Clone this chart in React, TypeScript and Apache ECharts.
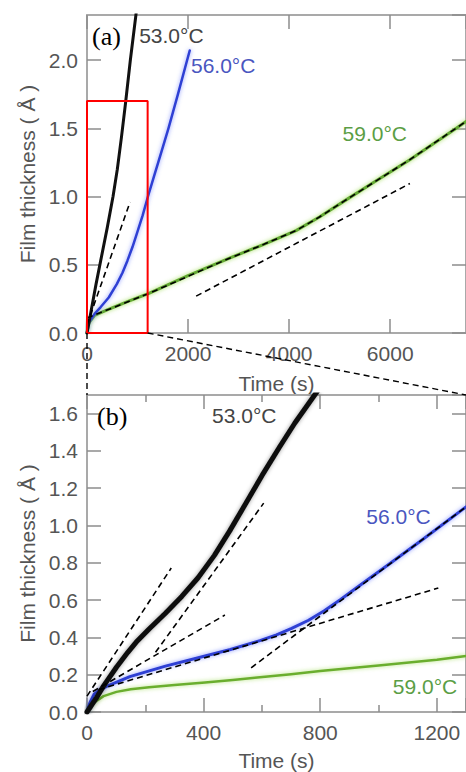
import React, { useEffect, useRef } from "react";
import * as echarts from "echarts";

// ---------- Panel (a) data: [time (s), thickness (Å)] ----------
const A_T53 = [[0, 0], [80, 0.16], [180, 0.36], [271, 0.53], [400, 0.77], [515, 1.0], [600, 1.2], [680, 1.43], [761, 1.68], [858, 2.0], [968, 2.33], [1000, 2.43]];
const A_T56 = [[0, 0], [40, 0.08], [150, 0.14], [271, 0.19], [430, 0.26], [592, 0.36], [700, 0.44], [800, 0.53], [900, 0.63], [980, 0.72], [1100, 0.86], [1206, 1.0], [1336, 1.16], [1450, 1.3], [1612, 1.5], [1800, 1.75], [2033, 2.07]];
const A_T59 = [[0, 0], [20, 0.05], [50, 0.08], [150, 0.13], [400, 0.17], [800, 0.23], [1225, 0.29], [2000, 0.42], [2832, 0.55], [3500, 0.65], [4136, 0.75], [4600, 0.85], [5104, 0.97], [5700, 1.11], [6389, 1.27], [7343, 1.51], [7500, 1.55]];
const A_FIT_59 = [[0, 0.11], [1225, 0.29], [2832, 0.55], [3500, 0.65], [4136, 0.75], [4600, 0.85], [5104, 0.97], [6389, 1.27], [7500, 1.55]];
const A_FIT_59_LATE = [[2160, 0.27], [6389, 1.095]];
const A_FIT_EARLY = [[0, 0.06], [852, 0.96]];

// ---------- Panel (b) data ----------
const B_T53 = [[0, 0], [30, 0.07], [57, 0.14], [101, 0.24], [140, 0.32], [169, 0.375], [213, 0.445], [269, 0.53], [325, 0.62], [381, 0.72], [437, 0.84], [489, 0.97], [545, 1.12], [601, 1.27], [660, 1.42], [713, 1.55], [790, 1.72]];
const B_T56 = [[0, 0], [10, 0.05], [24, 0.095], [45, 0.12], [69, 0.139], [147, 0.19], [269, 0.246], [405, 0.3], [492, 0.335], [593, 0.383], [650, 0.414], [702, 0.448], [760, 0.492], [814, 0.543], [870, 0.603], [926, 0.668], [1038, 0.795], [1149, 0.922], [1300, 1.1]];
const B_T59 = [[0, 0], [10, 0.03], [23, 0.05], [57, 0.085], [101, 0.108], [150, 0.122], [213, 0.133], [300, 0.145], [405, 0.158], [500, 0.172], [593, 0.186], [700, 0.203], [800, 0.22], [1000, 0.25], [1200, 0.28], [1300, 0.3]];
const B_FIT_1 = [[0, 0.085], [289, 0.772]];
const B_FIT_2 = [[235, 0.32], [606, 1.12]];
const B_FIT_3 = [[20, 0.11], [473, 0.52]];
const B_FIT_4 = [[40, 0.12], [1205, 0.665]];
const B_FIT_5 = [[563, 0.237], [1300, 1.1]];

// ---------- Axes ----------
const A_X_MAX = 7500, A_X_INT = 2000, A_Y_MAX = 2.33, A_Y_INT = 0.5;
const B_X_MAX = 1300, B_X_INT = 400, B_Y_MAX = 1.7, B_Y_INT = 0.2;
const ZOOM_T = [0, 1200];
const ZOOM_V = [0, 1.7];

const LABELS_A = [
  { text: "53.0°C", t: 1032, v: 2.18, color: "#444" },
  { text: "56.0°C", t: 2058, v: 1.96, color: "#4a56c0" },
  { text: "59.0°C", t: 5058, v: 1.46, color: "#5b9e45" },
];
const LABELS_B = [
  { text: "53.0°C", t: 429, v: 1.59, color: "#444" },
  { text: "56.0°C", t: 958, v: 1.05, color: "#4a56c0" },
  { text: "59.0°C", t: 1049, v: 0.137, color: "#5b9e45" },
];

const FONT = "'Liberation Sans', Arial, sans-serif";
const AXIS_GRAY = "#a9a9a9";
const TICK_GRAY = "#8c8c8c";

function xAxisPair(grid: number, max: number, interval: number, minor: boolean, nameGap: number) {
  const common = {
    type: "value",
    gridIndex: grid,
    min: 0,
    max,
    interval,
    axisLine: { show: true, onZero: false, lineStyle: { color: AXIS_GRAY, width: 2 } },
    axisTick: { show: true, inside: true, length: 14, lineStyle: { color: TICK_GRAY, width: 1.5 } },
    minorTick: { show: minor, splitNumber: 2, length: 7, lineStyle: { color: TICK_GRAY, width: 1.5 } },
    splitLine: { show: false },
  };
  return [
    {
      ...common,
      position: "bottom",
      axisLabel: { color: "#555", fontSize: 21, fontFamily: FONT, margin: 10, showMaxLabel: false, formatter: (v: number) => String(v) },
      name: "Time (s)",
      nameLocation: "middle",
      nameGap,
      nameTextStyle: { color: "#555", fontSize: 21, fontFamily: FONT },
    },
    { ...common, position: "top", axisLabel: { show: false } },
  ];
}

function yAxisPair(grid: number, max: number, interval: number) {
  const common = {
    type: "value",
    gridIndex: grid,
    min: 0,
    max,
    interval,
    axisLine: { show: true, onZero: false, lineStyle: { color: AXIS_GRAY, width: 2 } },
    axisTick: { show: true, inside: true, length: 14, lineStyle: { color: TICK_GRAY, width: 1.5 } },
    splitLine: { show: false },
  };
  return [
    {
      ...common,
      position: "left",
      axisLabel: { color: "#555", fontSize: 21, fontFamily: FONT, margin: 9, showMaxLabel: false, formatter: (v: number) => v.toFixed(1) },
      name: "Film thickness ( Å )",
      nameLocation: "middle",
      nameGap: 49,
      nameTextStyle: { color: "#555", fontSize: 21, fontFamily: FONT },
    },
    { ...common, position: "right", axisLabel: { show: false } },
  ];
}

function curve(xi: number, yi: number, data: number[][], color: string, width: number, glow: string, z = 2) {
  return {
    type: "line",
    xAxisIndex: xi,
    yAxisIndex: yi,
    data,
    showSymbol: false,
    symbol: "none",
    smooth: false,
    z,
    lineStyle: { color, width, shadowColor: glow, shadowBlur: glow ? 4 : 0, join: "round", cap: "round" },
  };
}

function dashed(xi: number, yi: number, data: number[][]) {
  return {
    type: "line",
    xAxisIndex: xi,
    yAxisIndex: yi,
    data,
    showSymbol: false,
    symbol: "none",
    smooth: false,
    z: 5,
    lineStyle: { color: "#000", width: 1.6, type: [6, 4] },
  };
}

export default function App() {
  const ref = useRef<HTMLDivElement>(null);
  useEffect(() => {
    if (!ref.current) return;
    const chart = echarts.init(ref.current, null, { renderer: "svg" });
    const box = [
      [ZOOM_T[0], ZOOM_V[0]],
      [ZOOM_T[0], ZOOM_V[1]],
      [ZOOM_T[1], ZOOM_V[1]],
      [ZOOM_T[1], ZOOM_V[0]],
      [ZOOM_T[0], ZOOM_V[0]],
    ];
    chart.setOption({
      animation: false,
      backgroundColor: "#fff",
      grid: [
        { left: 87, top: 15, right: -8, height: 318 },
        { left: 87, top: 395, right: -8, height: 317.7 },
      ],
      xAxis: [...xAxisPair(0, A_X_MAX, A_X_INT, false, 40), ...xAxisPair(1, B_X_MAX, B_X_INT, true, 38)],
      yAxis: [...yAxisPair(0, A_Y_MAX, A_Y_INT), ...yAxisPair(1, B_Y_MAX, B_Y_INT)],
      series: [
        curve(0, 0, A_T59, "#62a832", 3, "rgba(160,220,90,0.9)"),
        curve(0, 0, A_T56, "#2f3fd4", 2.5, "rgba(90,110,255,0.7)"),
        curve(0, 0, A_T53, "#111", 3, ""),
        dashed(0, 0, A_FIT_59),
        dashed(0, 0, A_FIT_59_LATE),
        dashed(0, 0, A_FIT_EARLY),
        {
          type: "line",
          xAxisIndex: 0,
          yAxisIndex: 0,
          data: box,
          showSymbol: false,
          symbol: "none",
          clip: false,
          z: 6,
          lineStyle: { color: "#ff0000", width: 2 },
        },
        curve(2, 2, B_T59, "#6aae2e", 2.5, "rgba(160,220,90,0.8)"),
        curve(2, 2, B_T56, "#2f3fd4", 3, "rgba(90,110,255,0.7)"),
        curve(2, 2, B_T53, "#111", 5, "rgba(0,0,0,0.4)"),
        dashed(2, 2, B_FIT_1),
        dashed(2, 2, B_FIT_2),
        dashed(2, 2, B_FIT_3),
        dashed(2, 2, B_FIT_4),
        dashed(2, 2, B_FIT_5),
      ],
    });

    const pa = (p: number[]) => chart.convertToPixel({ gridIndex: 0 }, p) as number[];
    const pb = (p: number[]) => chart.convertToPixel({ gridIndex: 1 }, p) as number[];
    const c1 = pa([ZOOM_T[1], ZOOM_V[0]]);
    const c2 = pb([B_X_MAX, B_Y_MAX]);
    const c3 = pa([ZOOM_T[0], ZOOM_V[0]]);
    const c4 = pb([0, B_Y_MAX]);
    const dashStyle = { stroke: "#000", lineWidth: 1.4, lineDash: [6, 4] };
    const txt = (l: { text: string; t: number; v: number; color: string }, f: (p: number[]) => number[]) => {
      const p = f([l.t, l.v]);
      return {
        type: "text",
        x: p[0],
        y: p[1],
        z: 10,
        style: { text: l.text, fill: l.color, fontSize: 21, fontFamily: FONT, align: "left", verticalAlign: "middle" },
      };
    };
    chart.setOption({
      graphic: [
        { type: "line", shape: { x1: c1[0], y1: c1[1], x2: c2[0], y2: c2[1] }, style: dashStyle, z: 10 },
        { type: "line", shape: { x1: c3[0], y1: c3[1], x2: c4[0], y2: c4[1] }, style: dashStyle, z: 10 },
        ...LABELS_A.map((l) => txt(l, pa)),
        ...LABELS_B.map((l) => txt(l, pb)),
        {
          type: "text",
          x: 92,
          y: 36,
          z: 10,
          style: { text: "(a)", fill: "#000", fontSize: 26, fontFamily: "'Liberation Serif', 'Times New Roman', serif", verticalAlign: "middle" },
        },
        {
          type: "text",
          x: 97,
          y: 416,
          z: 10,
          style: { text: "(b)", fill: "#000", fontSize: 26, fontFamily: "'Liberation Serif', 'Times New Roman', serif", verticalAlign: "middle" },
        },
      ],
    });
    return () => chart.dispose();
  }, []);
  return <div ref={ref} style={{ position: "fixed", left: 0, top: 0, width: 466, height: 772 }} />;
}
